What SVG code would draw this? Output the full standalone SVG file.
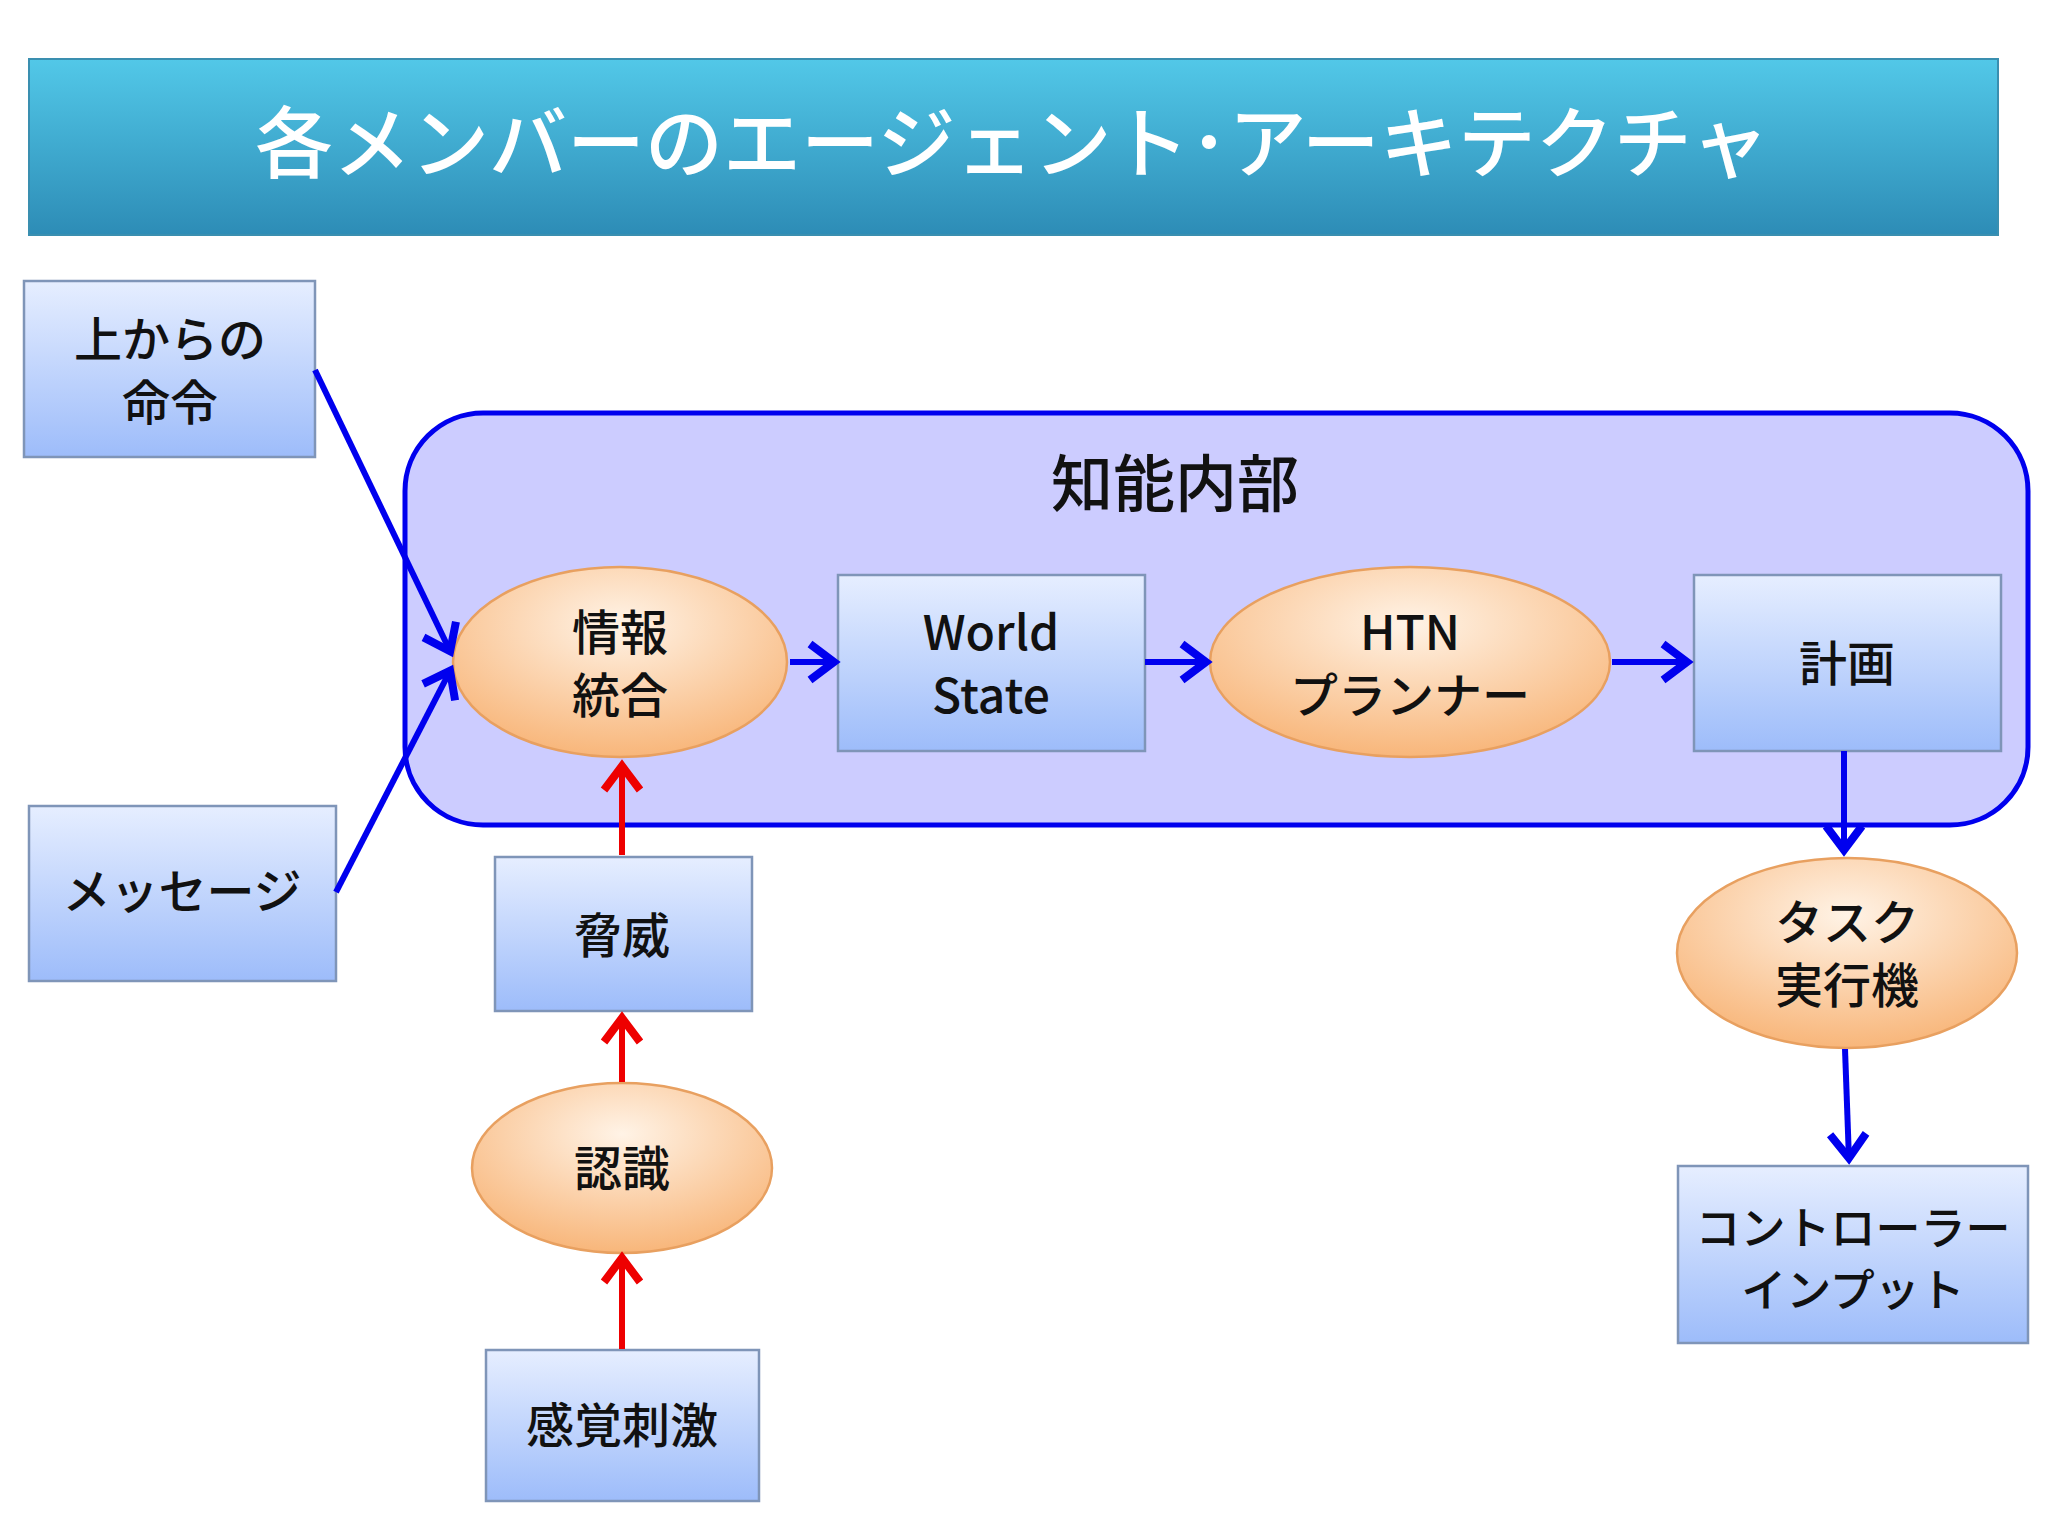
<svg xmlns="http://www.w3.org/2000/svg" width="2048" height="1536" viewBox="0 0 2048 1536">
<style>
text{font-family:"Noto Sans CJK JP","Noto Sans",sans-serif;text-anchor:middle;fill:#111;font-weight:500}
.n{font-size:48px}
.r{fill:url(#gb);stroke:#7f95b8;stroke-width:2.5}
.e{fill:url(#go);stroke:#e8a060;stroke-width:2.5}
.b{stroke:#0000ee;stroke-width:6;fill:none;marker-end:url(#mb)}
.red{stroke:#ee0000;stroke-width:6;fill:none;marker-end:url(#mr)}
</style>
<defs>
<linearGradient id="gb" x1="0" y1="0" x2="0" y2="1"><stop offset="0" stop-color="#e6eeff"/><stop offset="1" stop-color="#9dbcfa"/></linearGradient>
<radialGradient id="go" cx="0.5" cy="0.3" r="0.7"><stop offset="0" stop-color="#fff3e6"/><stop offset="1" stop-color="#f8b67a"/></radialGradient>
<linearGradient id="gt" x1="0" y1="0" x2="0" y2="1"><stop offset="0" stop-color="#52c8e8"/><stop offset="1" stop-color="#2d8cb6"/></linearGradient>
<marker id="mb" markerUnits="userSpaceOnUse" markerWidth="50" markerHeight="50" refX="42" refY="25" orient="auto" viewBox="0 0 50 50"><path d="M16 7 L40 25 L16 43" fill="none" stroke="#0000ee" stroke-width="8"/></marker>
<marker id="mr" markerUnits="userSpaceOnUse" markerWidth="50" markerHeight="50" refX="42" refY="25" orient="auto" viewBox="0 0 50 50"><path d="M16 7 L40 25 L16 43" fill="none" stroke="#ee0000" stroke-width="8"/></marker>
</defs>
<rect width="2048" height="1536" fill="#fff"/>
<g id="title"><rect x="29" y="59" width="1969" height="176" fill="url(#gt)" stroke="#3a8fb0" stroke-width="2"/><text x="1012" y="172" style="font-size:78px;fill:#fff">各メンバーのエージェント･アーキテクチャ</text></g>
<g id="inner"><rect x="405" y="413" width="1623" height="412" rx="78" fill="#ccccff" stroke="#0000ee" stroke-width="5"/><text x="1175" y="507" style="font-size:62px">知能内部</text></g>
<g id="cmd"><rect class="r" x="24" y="281" width="291" height="176"/><text class="n" x="170" y="357">上からの</text><text class="n" x="170" y="420">命令</text></g>
<g id="msg"><rect class="r" x="29" y="806" width="307" height="175"/><text class="n" x="182" y="909">メッセージ</text></g>
<g id="integ"><ellipse class="e" cx="620" cy="662" rx="167" ry="95"/><text class="n" x="620" y="650">情報</text><text class="n" x="620" y="713">統合</text></g>
<g id="ws"><rect class="r" x="838" y="575" width="307" height="176"/><text class="n" x="991" y="650">World</text><text class="n" x="991" y="713">State</text></g>
<g id="htn"><ellipse class="e" cx="1410" cy="662" rx="200" ry="95"/><text class="n" x="1410" y="650">HTN</text><text class="n" x="1410" y="713">プランナー</text></g>
<g id="plan"><rect class="r" x="1694" y="575" width="307" height="176"/><text class="n" x="1847" y="681">計画</text></g>
<g id="task"><ellipse class="e" cx="1847" cy="953" rx="170" ry="95"/><text class="n" x="1847" y="940">タスク</text><text class="n" x="1847" y="1003">実行機</text></g>
<g id="ctrl"><rect class="r" x="1678" y="1166" width="350" height="177"/><text x="1853" y="1245" style="font-size:45px">コントローラー</text><text x="1853" y="1307" style="font-size:45px">インプット</text></g>
<g id="threat"><rect class="r" x="495" y="857" width="257" height="154"/><text class="n" x="622" y="953">脅威</text></g>
<g id="recog"><ellipse class="e" cx="622" cy="1168" rx="150" ry="85"/><text class="n" x="622" y="1186">認識</text></g>
<g id="sense"><rect class="r" x="486" y="1350" width="273" height="151"/><text class="n" x="622" y="1443">感覚刺激</text></g>
<g id="connectors">
<path class="b" d="M315 370 L451 653"/>
<path class="b" d="M336 892 L451 669"/>
<path class="b" d="M790 662 L836 662"/>
<path class="b" d="M1145 662 L1208 662"/>
<path class="b" d="M1612 662 L1689 662"/>
<path class="b" d="M1844 751 L1844 852"/>
<path class="b" d="M1845 1049 L1849 1160"/>
<path class="red" d="M622 855 L622 764"/>
<path class="red" d="M622 1082 L622 1016"/>
<path class="red" d="M622 1349 L622 1256"/>
</g>
</svg>
